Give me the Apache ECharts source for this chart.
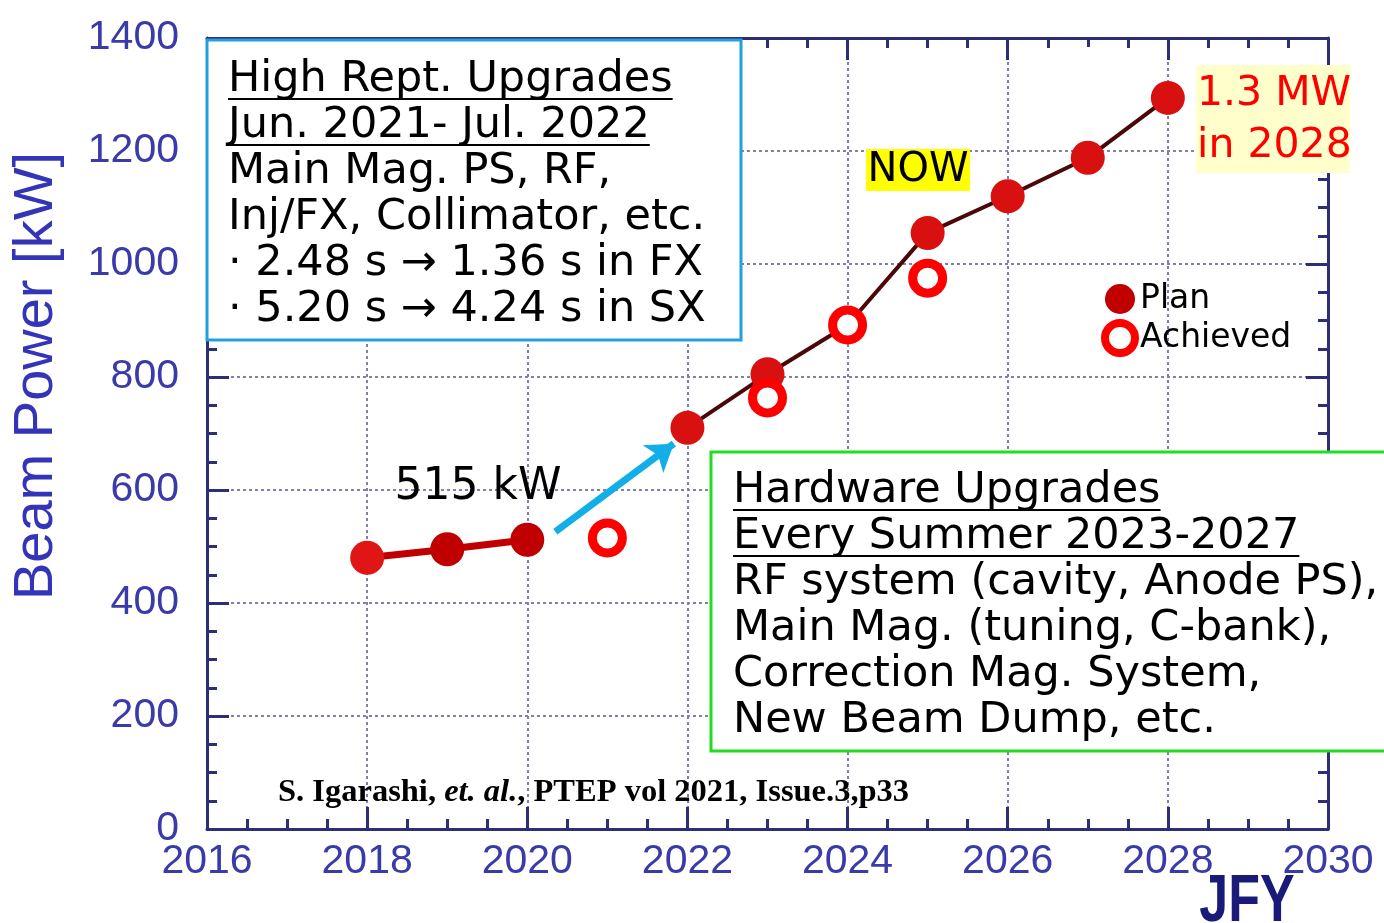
<!DOCTYPE html>
<html>
<head>
<meta charset="utf-8">
<script src="https://cdn.jsdelivr.net/npm/echarts@6/dist/echarts.min.js"></script>
<style>
  html, body { margin:0; padding:0; background:#fff; }
  #chart { width:1384px; height:923px; }
</style>
</head>
<body>
<div id="chart"></div>
<script>
// ====== J-PARC MR beam power plan ======

// ---- data ----
const planYearsA    = [2018, 2019, 2020];
const planPowerA    = [480, 495, 512];
const planYearsB    = [2022, 2023, 2024, 2025, 2026, 2027, 2028];
const planPowerB    = [710, 805, 892, 1055, 1120, 1188, 1294];
const achievedYears = [2021, 2023, 2024, 2025];
const achievedPower = [515, 763, 892, 975];
const arrowFrom     = [2020.35, 526];
const arrowTo       = [2021.83, 682];

const box1Lines = ['High Rept. Upgrades', 'Jun. 2021- Jul. 2022', 'Main Mag. PS, RF,',
                   'Inj/FX, Collimator, etc.', '· 2.48 s → 1.36 s in FX', '· 5.20 s → 4.24 s in SX'];
const box2Lines = ['Hardware Upgrades', 'Every Summer 2023-2027', 'RF system (cavity, Anode PS),',
                   'Main Mag. (tuning, C-bank),', 'Correction Mag. System,', 'New Beam Dump, etc.'];

const AXIS_C = '#2e2e78';
const LABEL_C = '#3a3aa8';
const BOX_FAMILY = '"DejaVu Sans", "Noto Sans", sans-serif';
const BOX_SIZE = 43;

// ---- 量測文字寬度 (for underline) ----
const _ctx = document.createElement('canvas').getContext('2d');
function textW(str, size, family){
  _ctx.font = `${size}px ${family}`;
  return _ctx.measureText(str).width;
}

function zip(xs, ys){ return xs.map((x, i) => [x, ys[i]]); }

// ---- text box builder ----
function textBox(x, y, w, h, stroke, lines, tx, ty0, dy, underlined){
  const els = [{
    type:'rect', z:100,
    shape:{ x, y, width:w, height:h },
    style:{ fill:'#fff', stroke, lineWidth:3 }
  }];
  lines.forEach((ln, i) => {
    const cy = ty0 + i*dy;
    els.push({
      type:'text', z:101, x:tx, y:cy,
      style:{ text:ln, font:`${BOX_SIZE}px ${BOX_FAMILY}`, fill:'#000', textVerticalAlign:'middle' }
    });
    if(i < underlined){
      const w2 = textW(ln, BOX_SIZE, BOX_FAMILY);
      els.push({
        type:'line', z:101,
        shape:{ x1:tx, y1:cy+19, x2:tx+w2, y2:cy+19 },
        style:{ stroke:'#000', lineWidth:2 }
      });
    }
  });
  return els;
}

const chart = echarts.init(document.getElementById('chart'));

const planDataA = zip(planYearsA, planPowerA).map((p, i) =>
  i === 0 ? { value:p, itemStyle:{ color:'#e01515' } } : { value:p });

const graphics = [].concat(
  // white patch near top right
  [{ type:'rect', z:1, shape:{ x:1050, y:47, width:70, height:95 }, style:{ fill:'#fff' } }],
  textBox(207, 40, 534, 300, '#22a0dc', box1Lines, 228, 80, 46, 2),
  textBox(711, 452, 690, 299, '#22dd22', box2Lines, 733, 491, 46, 2),
  [
    { type:'rect', z:100, shape:{ x:866, y:149, width:104, height:42 }, style:{ fill:'#ffff00' } },
    { type:'text', z:101, x:918, y:171,
      style:{ text:'NOW', font:`40px ${BOX_FAMILY}`, fill:'#000', textAlign:'center', textVerticalAlign:'middle' } },
    { type:'rect', z:100, shape:{ x:1196, y:65, width:154, height:108 }, style:{ fill:'#ffffcc' } },
    { type:'text', z:101, x:1197, y:94,
      style:{ text:'1.3 MW', font:`41px ${BOX_FAMILY}`, fill:'#ff0000', textVerticalAlign:'middle' } },
    { type:'text', z:101, x:1197, y:146,
      style:{ text:'in 2028', font:`41px ${BOX_FAMILY}`, fill:'#ff0000', textVerticalAlign:'middle' } },
    { type:'text', z:50, x:478, y:488,
      style:{ text:'515 kW', font:`44px ${BOX_FAMILY}`, fill:'#000', textAlign:'center', textVerticalAlign:'middle' } },
    { type:'text', z:50, x:278, y:793,
      style:{
        text:'{b|S. Igarashi, }{i|et. al.}{b|, PTEP vol 2021, Issue.3,p33}',
        textVerticalAlign:'middle',
        rich:{
          b:{ font:'bold 32.5px "Liberation Serif", serif', fill:'#000' },
          i:{ font:'italic bold 32.5px "Liberation Serif", serif', fill:'#000' }
        }
      } },
    { type:'text', z:50, x:37, y:376, rotation:Math.PI/2,
      style:{ text:'Beam Power [kW]', font:'56px "Liberation Sans", Arial, sans-serif', fill:'#3434b8',
              textAlign:'center', textVerticalAlign:'middle' } },
    { type:'text', z:50, x:1247, y:902, scaleY:1.3,
      style:{ text:'JFY', font:'bold 52px "Liberation Sans", Arial, sans-serif', fill:'#1a1a78',
              textAlign:'center', textVerticalAlign:'middle' } }
  ]
);

const axisCommon = {
  type:'value',
  axisLine:{ show:true, onZero:false, lineStyle:{ color:AXIS_C, width:3 } },
  axisTick:{ show:true, inside:true, length:22, lineStyle:{ color:AXIS_C, width:3 } },
  minorTick:{ show:true, splitNumber:4, length:10, lineStyle:{ color:AXIS_C, width:3 } },
  minorSplitLine:{ show:false }
};

chart.setOption({
  backgroundColor:'#fff',
  animation:false,
  grid:{ left:207, right:56, top:38, bottom:94 },
  legend:{
    orient:'vertical', left:1101, top:281, itemGap:2, padding:0,
    itemWidth:30, itemHeight:30, selectedMode:false,
    textStyle:{ fontSize:33, lineHeight:36, color:'#000', fontFamily:BOX_FAMILY },
    data:[
      { name:'Plan', icon:'circle', itemStyle:{ color:'#c00000', borderWidth:0, opacity:1 } },
      { name:'Achieved', icon:'circle', itemStyle:{ color:'#fff', borderColor:'#ff0000', borderWidth:8, opacity:1 } }
    ]
  },
  xAxis:[
    Object.assign({}, axisCommon, {
      min:2016, max:2030, interval:2, position:'bottom',
      axisLabel:{ margin:12, fontSize:41, color:LABEL_C, fontFamily:'"Liberation Sans", Arial, sans-serif',
                  formatter:v => String(v) },
      splitLine:{ show:true, lineStyle:{ type:[3,3], color:'#8080a8', width:2 } }
    }),
    Object.assign({}, axisCommon, {
      min:2016, max:2030, interval:2, position:'top',
      axisLabel:{ show:false }, splitLine:{ show:false }
    })
  ],
  yAxis:[
    Object.assign({}, axisCommon, {
      min:0, max:1400, interval:200, position:'left',
      axisLabel:{ margin:28, fontSize:41, color:LABEL_C, fontFamily:'"Liberation Sans", Arial, sans-serif',
                  padding:[0,0,12,0], formatter:v => String(v) },
      splitLine:{ show:true, lineStyle:{ type:[3,3], color:'#8080a8', width:2 } }
    }),
    Object.assign({}, axisCommon, {
      min:0, max:1400, interval:200, position:'right',
      axisLabel:{ show:false }, splitLine:{ show:false }
    })
  ],
  series:[
    {
      name:'Plan', type:'line', z:3,
      data:planDataA,
      symbol:'circle', symbolSize:34,
      lineStyle:{ color:'#c00000', width:7 },
      itemStyle:{ color:'#c00000' }
    },
    {
      name:'Plan', type:'line', z:3,
      data:zip(planYearsB, planPowerB),
      symbol:'circle', symbolSize:34,
      lineStyle:{ color:'#4a0808', width:4 },
      itemStyle:{ color:'#d91010' }
    },
    {
      name:'Achieved', type:'scatter', z:4,
      data:zip(achievedYears, achievedPower),
      symbol:'circle', symbolSize:30,
      itemStyle:{ color:'#fff', borderColor:'#ff0000', borderWidth:9, opacity:1 }
    },
    {
      type:'lines', coordinateSystem:'cartesian2d', z:5,
      symbol:['none','arrow'], symbolSize:26,
      lineStyle:{ color:'#12aee8', width:7, opacity:1 },
      data:[{ coords:[arrowFrom, arrowTo] }]
    }
  ],
  graphic:graphics
});
</script>
</body>
</html>
